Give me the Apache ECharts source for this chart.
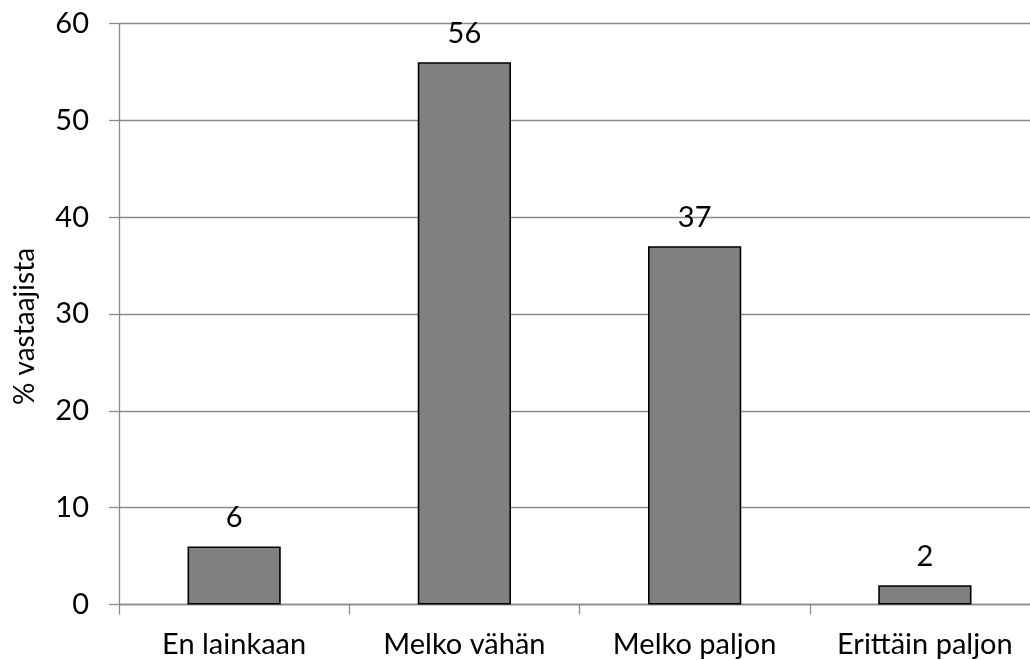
<!DOCTYPE html>
<html>
<head>
<meta charset="utf-8">
<script src="https://cdn.jsdelivr.net/npm/echarts@6/dist/echarts.min.js"></script>
<style>
  html, body { margin: 0; padding: 0; background: #ffffff; }
  #chart { width: 1030px; height: 660px; }
</style>
</head>
<body>
<div id="chart"></div>
<script>
// Response categories and share of respondents (%)
const categories = ['En lainkaan', 'Melko vähän', 'Melko paljon', 'Erittäin paljon'];
const shares = [6, 56, 37, 2];
const yTicks = { min: 0, max: 60, interval: 10 };
const yTitle = '% vastaajista';

const FONT = 'Lato, "Open Sans", sans-serif';
const GRID_GREY = '#8a8a8a';

const chart = echarts.init(document.getElementById('chart'), null, { renderer: 'canvas' });

chart.setOption({
  animation: false,
  backgroundColor: '#ffffff',
  textStyle: { fontFamily: FONT, color: '#000000' },
  // plot area runs slightly past the right edge of the canvas
  grid: {
    left: 119, top: 23.5, width: 921, height: 581,
    containLabel: false,
    outerBoundsMode: 'none'
  },
  xAxis: {
    type: 'category',
    data: categories,
    axisLine: { show: true, lineStyle: { color: GRID_GREY, width: 1.3 } },
    axisTick: { show: true, length: 10, alignWithLabel: false, lineStyle: { color: GRID_GREY, width: 1.3 } },
    axisLabel: { fontFamily: FONT, fontSize: 29, color: '#000000', margin: 26, interval: 0 },
    splitLine: { show: false }
  },
  yAxis: {
    type: 'value',
    min: yTicks.min,
    max: yTicks.max,
    interval: yTicks.interval,
    name: yTitle,
    nameLocation: 'middle',
    nameRotate: 90,
    nameGap: 80,
    nameTextStyle: { fontFamily: FONT, fontSize: 28, color: '#000000', padding: [0, 25, 0, 0] },
    axisLine: { show: true, lineStyle: { color: GRID_GREY, width: 1.3 } },
    axisTick: { show: true, length: 10, lineStyle: { color: GRID_GREY, width: 1.3 } },
    axisLabel: { fontFamily: FONT, fontSize: 29, color: '#000000', margin: 30 },
    splitLine: { show: true, lineStyle: { color: GRID_GREY, width: 1.3 } }
  },
  series: [{
    type: 'bar',
    data: shares,
    barWidth: '40.5%',
    itemStyle: { color: '#808080', borderColor: '#000000', borderWidth: 1.6 },
    label: {
      show: true,
      position: 'top',
      distance: 14,
      fontFamily: FONT,
      fontSize: 29,
      color: '#000000'
    }
  }]
});
</script>
</body>
</html>
